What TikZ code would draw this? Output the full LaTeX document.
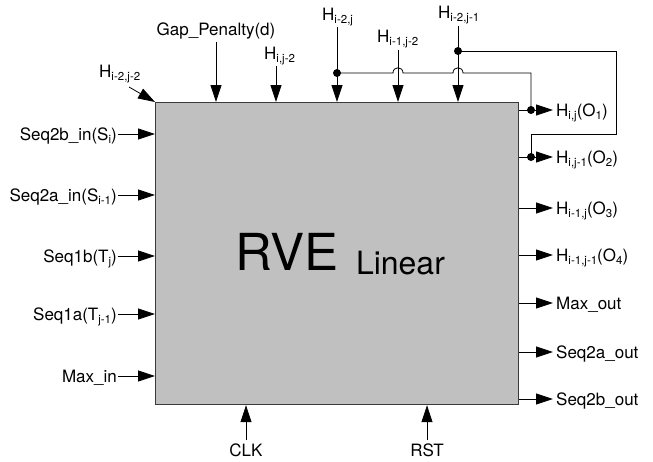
\documentclass[tikz,border=0pt]{standalone}
\usepackage{fontspec}
\setmainfont{TeX Gyre Heros}
\usetikzlibrary{arrows.meta}
\newcommand\sbx[1]{\raisebox{-3pt}{\fontsize{11.5}{11.5}\selectfont #1}}
\definecolor{boxfill}{HTML}{C0C0C0}
\definecolor{boxline}{HTML}{3A3A3A}
\begin{document}
\begin{tikzpicture}[x=1pt,y=-1pt,
  lab/.style={font=\fontsize{17}{17}\selectfont, inner sep=0pt},
  arr/.style={draw, line width=0.8pt, -{Triangle[length=17pt,width=11pt]}},
  wire/.style={draw, line width=0.8pt},
  jdot/.style={circle, fill, inner sep=0pt, minimum size=8pt}]
\useasboundingbox (0,0) rectangle (653,461);
% main block
\node[draw=boxline, line width=1.2pt, fill=boxfill, minimum width=363pt, minimum height=302pt, inner sep=0pt, anchor=north west] (rve) at (155,102) {};
\node[anchor=base west, inner sep=0pt, font=\fontsize{51}{51}\selectfont] (title) at (235,270) {RVE\hskip 18pt\raisebox{-4pt}{\fontsize{32}{32}\selectfont Linear}};
% left inputs
\foreach \y/\t/\n in {134/{Seq2b\_in(S\sbx{i})}/a, 195/{Seq2a\_in(S\sbx{i-1})}/b, 256/{Seq1b(T\sbx{j})}/c, 314/{Seq1a(T\sbx{j-1})}/d, 376/{Max\_in}/e}{
  \coordinate (L\n) at (118,\y);
  \node[lab, anchor=base east] (Lt\n) at ([xshift=-1pt,yshift=-6pt]L\n) {\t};
  \draw[arr] (L\n) -- (L\n -| rve.west);
}
% right outputs (plain)
\foreach \y/\t/\n in {208/{H\sbx{i-1,j}(O\sbx{3})}/c, 255/{H\sbx{i-1,j-1}(O\sbx{4})}/d, 303/{Max\_out}/e, 352/{Seq2a\_out}/f, 399/{Seq2b\_out}/g}{
  \coordinate (R\n) at (553,\y);
  \node[lab, anchor=base west] (Rt\n) at ([xshift=3pt,yshift=-6pt]R\n) {\t};
  \draw[arr] (R\n -| rve.east) -- (R\n);
}
% right outputs with feedback
\coordinate (Ra) at (553,110);
\coordinate (Rb) at (553,157);
\node[lab, anchor=base west] (Rta) at ([xshift=3pt,yshift=-6pt]Ra) {H\sbx{i,j}(O\sbx{1})};
\node[lab, anchor=base west] (Rtb) at ([xshift=3pt,yshift=-6pt]Rb) {H\sbx{i,j-1}(O\sbx{2})};
\draw[arr] (Ra -| rve.east) -- (Ra);
\draw[arr] (Rb -| rve.east) -- (Rb);
\node[jdot] (da) at (531,110) {};
\node[jdot] (db) at (531,157) {};
% top inputs
\coordinate (Tk) at (129,87);
\node[lab, anchor=base west] (Ttk) at (99,77) {H\sbx{i-2,j-2}};
\draw[arr] (Tk) -- (rve.north west);
\coordinate (Tg) at (216,42);
\node[lab, anchor=base] (Ttg) at (216,35) {Gap\_Penalty(d)};
\draw[arr] (Tg) -- (Tg |- rve.north);
\coordinate (Th) at (276,66);
\node[lab, anchor=base west] (Tth) at (264,59) {H\sbx{i,j-2}};
\draw[arr] (Th) -- (Th |- rve.north);
\coordinate (Tp) at (337,27);
\node[lab, anchor=base west] (Ttp) at (322,20) {H\sbx{i-2,j}};
\draw[arr] (Tp) -- (Tp |- rve.north);
\coordinate (Tq) at (398,50);
\node[lab, anchor=base west] (Ttq) at (377,42) {H\sbx{i-1,j-2}};
\draw[arr] (Tq) -- (Tq |- rve.north);
\coordinate (Tr) at (458,26);
\node[lab, anchor=base west] (Ttr) at (438,18) {H\sbx{i-2,j-1}};
\draw[arr] (Tr) -- (Tr |- rve.north);
\node[jdot] (dp) at (337,73) {};
\node[jdot] (dr) at (458,51) {};
% feedback wires
\draw[wire] (dp.center) -- (393,73) .. controls (393,66) and (403,66) .. (403,73)
  -- (453,73) .. controls (453,66) and (463,66) .. (463,73) -- (531,73) -- (da.center);
\draw[wire] (dr.center) -- (616,51) -- (616,134) -- (531,134) -- (db.center);
% bottom inputs
\coordinate (Bc) at (246,440);
\node[lab, anchor=base] (Btc) at (246,456) {CLK};
\draw[arr] (Bc) -- (Bc |- rve.south);
\coordinate (Br) at (427,440);
\node[lab, anchor=base] (Btr) at (427,456) {RST};
\draw[arr] (Br) -- (Br |- rve.south);
\end{tikzpicture}
\end{document}
